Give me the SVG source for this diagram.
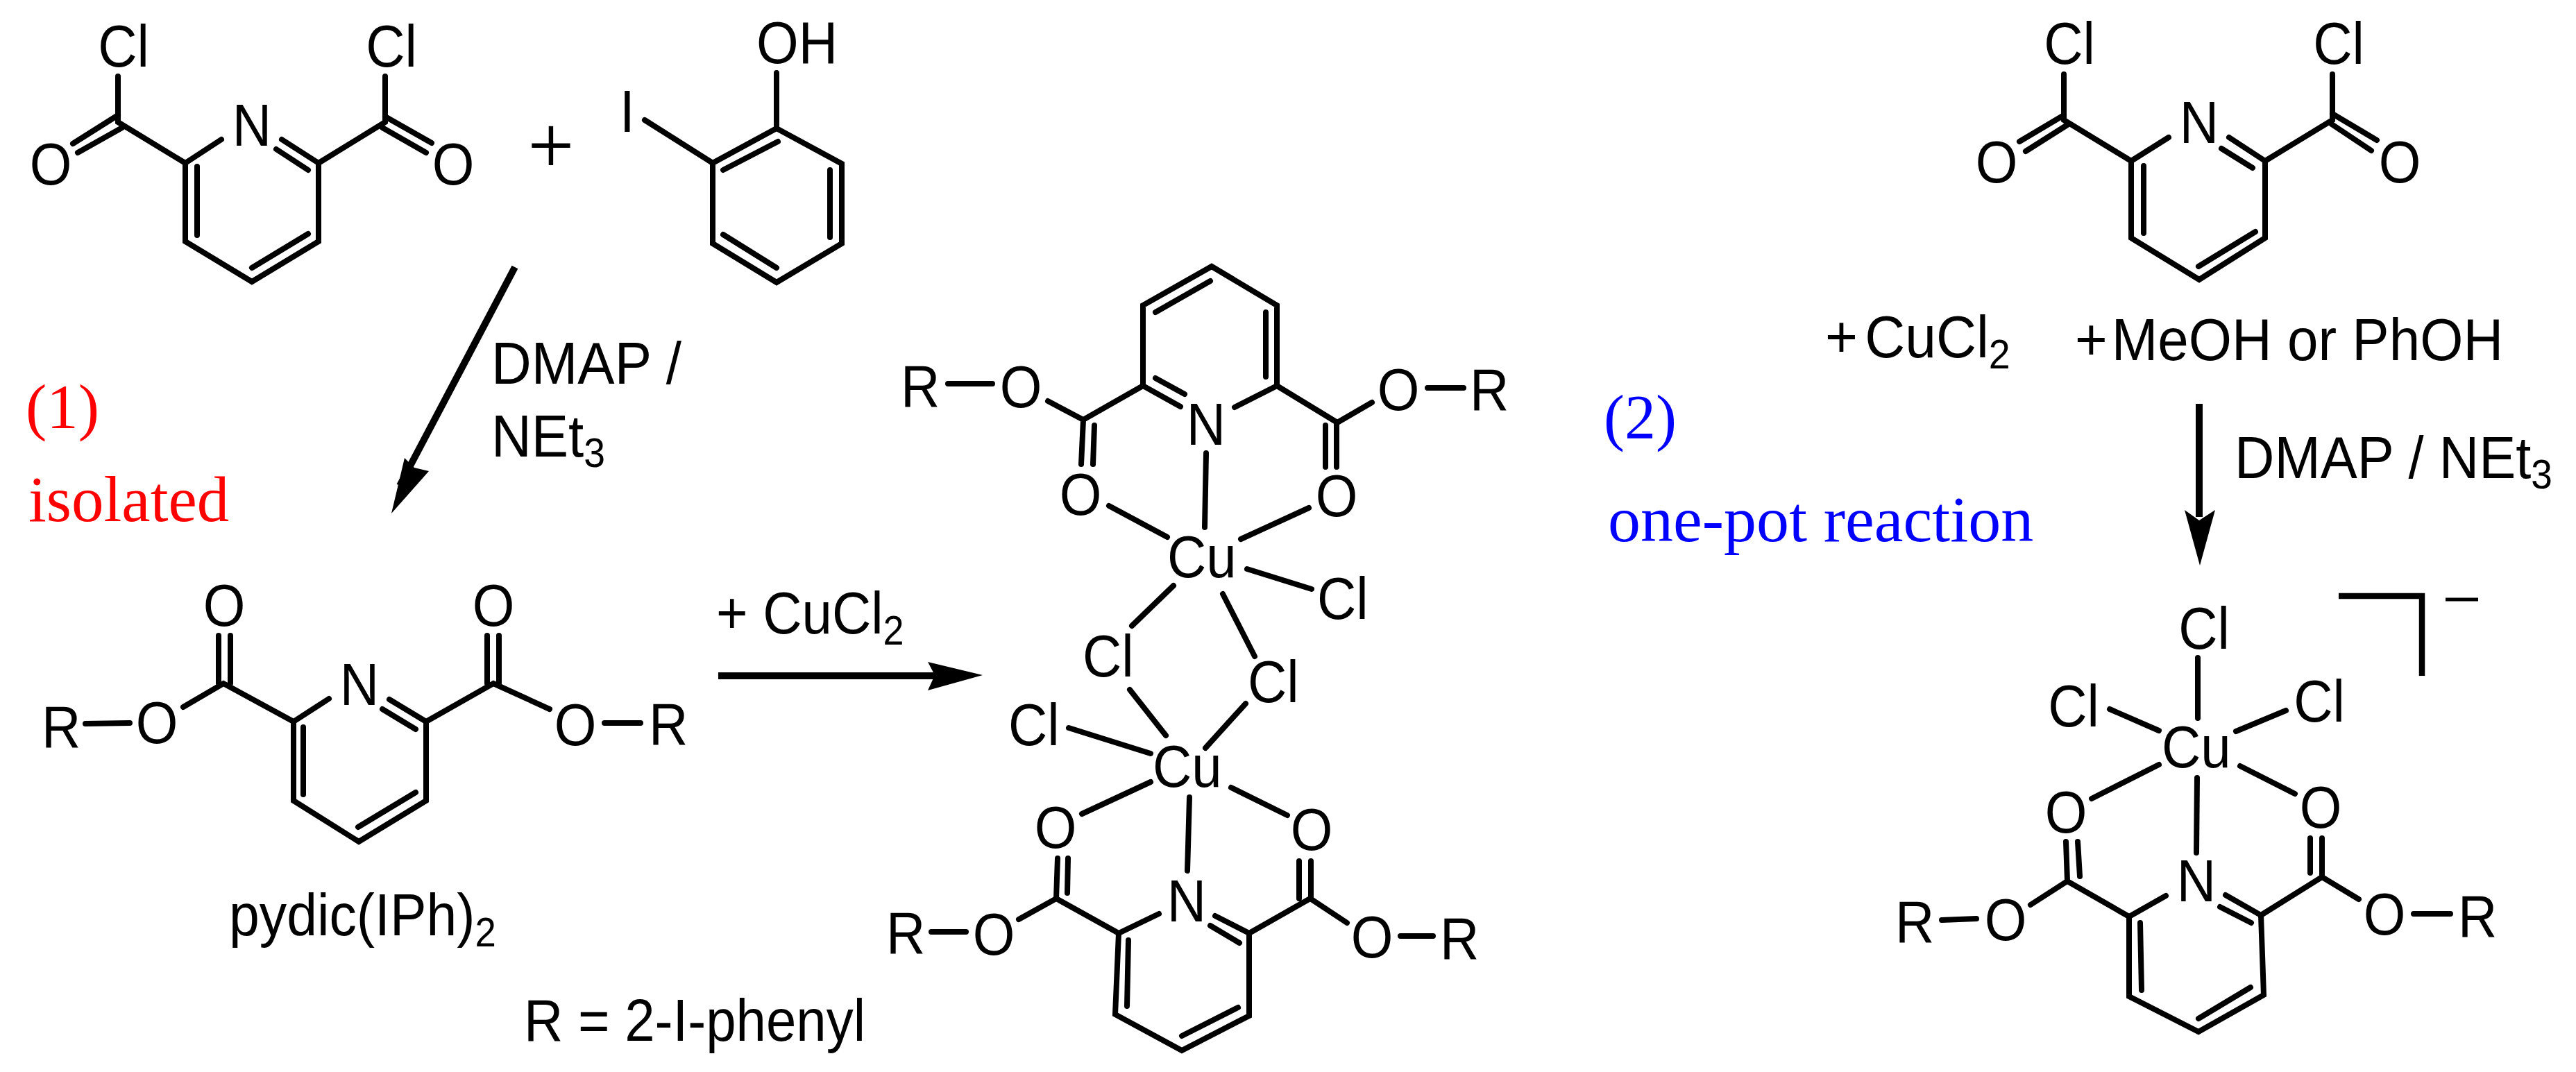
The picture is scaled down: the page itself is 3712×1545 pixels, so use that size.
<svg xmlns="http://www.w3.org/2000/svg" width="3712" height="1545" viewBox="0 0 3712 1545">
<style>
text{font-family:"Liberation Sans",Arial,sans-serif;font-size:78px;fill:#000}
.m{text-anchor:middle}
.b{fill:none;stroke:#000;stroke-width:8;stroke-linecap:round;stroke-linejoin:miter}
.t{font-family:"Liberation Serif","Times New Roman",serif}
.sub{font-size:54px}
.red{fill:#f00}
.blue{fill:#00f}
.ar{fill:none;stroke:#000;stroke-width:10}
.br{fill:none;stroke:#000;stroke-width:8.5}
</style>
<rect width="3712" height="1545" fill="#fff"/>

<g id="acid-chloride-left">
<path class="b" d="M267 235V348L363 406L459 348V235M267 235L319 201M459 235L406 201M444 245L398 215M284 240V339M444 337L363 386M267 235L170 176V110M105 207L170 166M112 220L176 184M459 235L555 176V110M555 168L622 206M551 184L614 220"/>
<text class="m" transform="matrix(1 0 0 1.09 178 96)">Cl</text><text class="m" transform="matrix(1 0 0 1.09 564 96)">Cl</text><text class="m" transform="matrix(1 0 0 1.09 363 210)">N</text>
<text class="m" transform="matrix(1 0 0 1.09 73 266)">O</text><text class="m" transform="matrix(1 0 0 1.09 653 266)">O</text>
</g>
<text id="plus" class="m" x="794" y="249" style="font-size:118px;stroke:#fff;stroke-width:2">+</text>
<g id="iodophenol">
<path class="b" d="M1119 185L1027 235V351L1119 407L1213 351V236ZM1119 105V185M929 173L1027 235M1121 204L1042 245M1196 245V342M1042 338L1119 386"/>
<text transform="matrix(1 0 0 1.09 1090 91)">OH</text><text transform="matrix(1 0 0 1.09 893 190)">I</text>
</g>
<g id="condition-1"><text transform="matrix(1.025 0 0 1.09 708 553)">DMAP /</text><text transform="matrix(1.025 0 0 1.09 708 658)">NEt<tspan class="sub" dy="14">3</tspan></text></g>
<g id="label-1"><text class="t red" x="37" y="617" style="font-size:91px">(1)</text><text class="t red" x="41" y="751" style="font-size:93px">isolated</text></g>

<g id="pydic-ester">
<path class="b" d="M423 1040V1154L517 1213L614 1154V1040M423 1040L474 1007M614 1040L561 1008M599 1051L551 1022M437 1048V1145M599 1142L516 1192M423 1040L322 985L264 1019M123 1043L187 1042M315 916V985M332 916V985M614 1040L711 985L792 1022M702 916V985M719 916V985M871 1042H923"/>
<text transform="matrix(1 0 0 1.09 60 1077)">R</text><text class="m" transform="matrix(1 0 0 1.09 226 1071)">O</text><text class="m" transform="matrix(1 0 0 1.09 323 902)">O</text><text class="m" transform="matrix(1 0 0 1.09 518 1016)">N</text><text class="m" transform="matrix(1 0 0 1.09 711 902)">O</text><text class="m" transform="matrix(1 0 0 1.09 829 1074)">O</text><text transform="matrix(1 0 0 1.09 935 1073)">R</text>
</g>
<text id="pydic-label" transform="matrix(1.01 0 0 1.09 330 1348)">pydic(IPh)<tspan class="sub" dy="15">2</tspan></text>
<text id="r-def" transform="matrix(1 0 0 1.09 755 1500)">R = 2-I-phenyl</text>
<text id="reagent-cucl2" transform="matrix(1 0 0 1.09 1032 913)">+ CuCl<tspan class="sub" dy="15">2</tspan></text>

<g id="cu-dimer">
<path class="b" d="M1701 586L1647 556V440L1746 384L1840 440V556L1779 587M1665 450L1744 405M1824 450V543M1665 545L1707 568M1647 556L1561 605L1510 578M1366 553H1430M1561 605L1558 669M1577 613L1575 669M1840 556L1927 609L1977 580M2057 559H2109M1910 613V673M1926 609V673M1738 653L1736 760M1598 729L1682 774M1886 732L1788 777M1797 820L1890 849M1691 844L1631 902M1762 856L1808 946M1628 994L1680 1060M1795 1014L1737 1078M1540 1049L1658 1086M1658 1127L1559 1173M1774 1135L1855 1175M1714 1149L1711 1255M1670 1317L1612 1345L1607 1462L1703 1514L1800 1464V1345L1751 1320M1786 1359L1744 1334M1626 1355L1624 1450M1784 1452L1703 1493M1612 1345L1522 1295L1468 1325M1342 1343H1392M1524 1237L1522 1295M1539 1237L1538 1287M1800 1345L1888 1295L1941 1330M2018 1349H2065M1872 1241V1295M1889 1241V1295"/>
<text transform="matrix(1 0 0 1.09 1298 586)">R</text><text class="m" transform="matrix(1 0 0 1.09 1471 587)">O</text><text class="m" transform="matrix(1 0 0 1.09 1738 641)">N</text><text class="m" transform="matrix(1 0 0 1.09 2015 591)">O</text><text transform="matrix(1 0 0 1.09 2118 591)">R</text>
<text class="m" transform="matrix(1 0 0 1.09 1557 742)">O</text><text class="m" transform="matrix(1 0 0 1.09 1926 744)">O</text>
<text transform="matrix(1 0 0 1.09 1682 832)">Cu</text><text transform="matrix(1 0 0 1.09 1898 892)">Cl</text><text transform="matrix(1 0 0 1.09 1560 975)">Cl</text><text transform="matrix(1 0 0 1.09 1798 1012)">Cl</text><text transform="matrix(1 0 0 1.09 1453 1074)">Cl</text><text transform="matrix(1 0 0 1.09 1661 1134)">Cu</text>
<text class="m" transform="matrix(1 0 0 1.09 1521 1222)">O</text><text class="m" transform="matrix(1 0 0 1.09 1890 1225)">O</text><text class="m" transform="matrix(1 0 0 1.09 1710 1328)">N</text>
<text transform="matrix(1 0 0 1.09 1277 1374)">R</text><text class="m" transform="matrix(1 0 0 1.09 1432 1376)">O</text><text class="m" transform="matrix(1 0 0 1.09 1977 1380)">O</text><text transform="matrix(1 0 0 1.09 2075 1382)">R</text>
</g>

<g id="label-2"><text class="t blue" x="2311" y="632" style="font-size:90px">(2)</text><text class="t blue" x="2317" y="780" style="font-size:94px">one-pot reaction</text></g>

<g id="acid-chloride-right">
<path class="b" d="M3071 232V343L3169 403L3264 343V232M3071 232L3125 198M3264 232L3212 198M3246 242L3201 214M3089 239V336M3250 334L3168 384M3071 232L2974 173V107M2974 166L2910 204M2979 180L2919 218M3264 232L3361 173V107M3361 164L3425 202M3360 179L3417 217"/>
<text class="m" transform="matrix(1 0 0 1.09 2982 92)">Cl</text><text class="m" transform="matrix(1 0 0 1.09 3370 92)">Cl</text><text class="m" transform="matrix(1 0 0 1.09 3169 206)">N</text><text class="m" transform="matrix(1 0 0 1.09 2877 263)">O</text><text class="m" transform="matrix(1 0 0 1.09 3458 263)">O</text>
</g>
<g id="reagents-right"><text transform="matrix(1.03 0 0 1.09 2630 515)">+<tspan dx="10">CuCl</tspan><tspan class="sub" dy="15">2</tspan></text><text transform="matrix(1 0 0 1.065 2990 519)" style="font-size:80px">+<tspan dx="6">MeOH or PhOH</tspan></text></g>
<text id="condition-2" transform="matrix(1.02 0 0 1.09 3220 689)">DMAP / NEt<tspan class="sub" dy="14">3</tspan></text>

<g id="cu-monomer">
<path class="b" d="M3167 948V1035M3040 1022L3111 1053M3222 1054L3294 1024M3111 1102L3014 1151M3228 1104L3307 1144M3166 1121L3165 1229M3121 1291L3068 1321L3068 1436L3168 1487L3262 1434L3258 1319L3207 1290M3244 1330L3199 1307M3084 1330L3086 1427M3243 1423L3168 1468M3068 1321L2979 1270L2926 1304M2798 1326L2848 1324M2977 1213L2979 1270M2994 1213L2997 1263M3258 1319L3346 1264L3399 1296M3478 1317H3531M3329 1208V1258M3346 1208V1264"/>
<text class="m" transform="matrix(1 0 0 1.09 3176 935)">Cl</text><text class="m" transform="matrix(1 0 0 1.09 2988 1047)">Cl</text><text class="m" transform="matrix(1 0 0 1.09 3342 1040)">Cl</text><text transform="matrix(1 0 0 1.09 3115 1106)">Cu</text>
<text class="m" transform="matrix(1 0 0 1.09 2977 1200)">O</text><text class="m" transform="matrix(1 0 0 1.09 3344 1193)">O</text><text class="m" transform="matrix(1 0 0 1.09 3165 1299)">N</text><text transform="matrix(1 0 0 1.09 2731 1358)">R</text><text class="m" transform="matrix(1 0 0 1.09 2890 1355)">O</text><text class="m" transform="matrix(1 0 0 1.09 3436 1347)">O</text><text transform="matrix(1 0 0 1.09 3542 1350)">R</text>
<path class="br" d="M3370 859H3490V974"/>
<path d="M3524 864H3571" fill="none" stroke="#000" stroke-width="5"/>
</g>

<g id="connectors">
<path class="ar" d="M742 385L576 700"/>
<path d="M564 740L583 660L597 674L618 679Z" fill="#000"/>
<path class="ar" d="M1035 974H1350"/>
<path d="M1416 973L1337 954L1347 973L1337 995Z" fill="#000"/>
<path class="ar" d="M3169 582V745"/>
<path d="M3170 815L3148 735L3169 750L3192 735Z" fill="#000"/>
</g>
</svg>
